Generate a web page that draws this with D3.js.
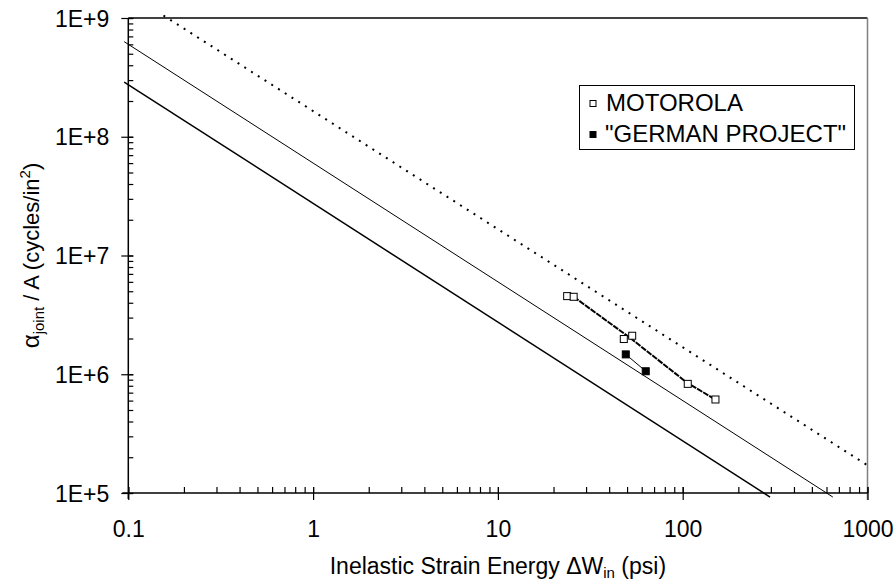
<!DOCTYPE html>
<html>
<head>
<meta charset="utf-8">
<script src="https://cdn.jsdelivr.net/npm/d3@7"></script>
<style>
  html, body { margin: 0; padding: 0; background: #fff; }
  svg { display: block; }
  text { font-family: "Liberation Sans", Arial, sans-serif; fill: #000; }
</style>
</head>
<body>
<svg id="chart" width="896" height="584"></svg>
<script>
// ---- Data ----
const xTicks = [0.1, 1, 10, 100, 1000];
const xTickLabels = ["0.1", "1", "10", "100", "1000"];
const yTicks = [1e5, 1e6, 1e7, 1e8, 1e9];
const yTickLabels = ["1E+5", "1E+6", "1E+7", "1E+8", "1E+9"];

const motorolaW = [23.7, 25.7, 48.0, 53.3, 106.5, 150.4];
const motorolaN = [4.55e6, 4.49e6, 1.98e6, 2.11e6, 8.3e5, 6.13e5];
const germanW = [49.2, 63.1];
const germanN = [1.47e6, 1.06e6];

const motorolaFitW = [25.7, 52, 106.5, 150.4];
const motorolaFitN = [4.49e6, 2.02e6, 8.4e5, 6.13e5];

const lowerLineW = [0.095, 297];
const lowerLineN = [2.89e8, 9.25e4];
const middleLineW = [0.095, 649];
const middleLineN = [6.32e8, 9.25e4];
const dottedLineW = [0.155, 1000];
const dottedLineN = [1.05e9, 1.71e5];

const legendLabels = ["MOTOROLA", "\"GERMAN PROJECT\""];

// ---- Layout ----
const svg = d3.select("#chart");
const L = 128.3, R = 867.5, T = 18, B = 493;
const x = d3.scaleLog().domain([0.1, 1000]).range([L, R]);
const y = d3.scaleLog().domain([1e5, 1e9]).range([B, T]);

const minorX = [];
for (let e = -1; e < 3; e++) for (let m = 1; m <= 9; m++) minorX.push(m * Math.pow(10, e));
minorX.push(1000);
const minorY = [];
for (let e = 5; e < 9; e++) for (let m = 1; m <= 9; m++) minorY.push(m * Math.pow(10, e));
minorY.push(1e9);

// plot frame: top black, right grey
svg.append("line").attr("x1", L).attr("x2", R).attr("y1", T).attr("y2", T)
  .attr("stroke", "#000").attr("stroke-width", 1.3);
svg.append("line").attr("x1", R).attr("x2", R).attr("y1", T).attr("y2", B + 7)
  .attr("stroke", "#808080").attr("stroke-width", 1.5);

// ---- Axes ----
const gx = svg.append("g").attr("transform", `translate(0,${B})`);
gx.call(d3.axisBottom(x).tickValues(minorX).tickSize(-6).tickSizeOuter(0).tickFormat(""));
gx.call(g => g.select(".domain").remove());
const gx2 = svg.append("g").attr("transform", `translate(0,${B})`);
gx2.call(d3.axisBottom(x).tickValues(xTicks).tickSize(7).tickSizeOuter(0)
  .tickFormat((d, i) => xTickLabels[i]));
gx2.selectAll(".tick line").attr("y1", -6);
gx2.select(".domain").attr("stroke-width", 1.5).attr("d", `M${L - 6},0H${R}`);
gx2.selectAll("text").attr("dy", null).attr("y", 44)
  .style("font-size", "23px").style("font-family", "'Liberation Sans', Arial, sans-serif");

const gy = svg.append("g").attr("transform", `translate(${L},0)`);
gy.call(d3.axisLeft(y).tickValues(minorY).tickSize(-5).tickSizeOuter(0).tickFormat(""));
gy.call(g => g.select(".domain").remove());
const gy2 = svg.append("g").attr("transform", `translate(${L},0)`);
gy2.call(d3.axisLeft(y).tickValues(yTicks).tickSize(7).tickSizeOuter(0)
  .tickFormat((d, i) => yTickLabels[i]));
gy2.selectAll(".tick line").attr("x1", 5);
gy2.select(".domain").attr("stroke-width", 1.5).attr("d", `M0,${T}V${B + 6}`);
gy2.selectAll("text").attr("x", -19).attr("dy", "0.35em")
  .style("font-size", "23px").style("font-family", "'Liberation Sans', Arial, sans-serif");
svg.selectAll(".tick line").attr("stroke", "#000").attr("stroke-width", 1.2);

// ---- Reference lines ----
const lineGen = d3.line().x(d => x(d[0])).y(d => y(d[1]));
const zip = (a, b) => a.map((v, i) => [v, b[i]]);

svg.append("path").datum(zip(lowerLineW, lowerLineN)).attr("d", lineGen)
  .attr("fill", "none").attr("stroke", "#000").attr("stroke-width", 1.5);
svg.append("path").datum(zip(middleLineW, middleLineN)).attr("d", lineGen)
  .attr("fill", "none").attr("stroke", "#000").attr("stroke-width", 1);
svg.append("path").datum(zip(dottedLineW, dottedLineN)).attr("d", lineGen)
  .attr("fill", "none").attr("stroke", "#000").attr("stroke-width", 2)
  .attr("stroke-dasharray", "2,6");

// ---- Data series ----
svg.append("path").datum(zip(motorolaFitW, motorolaFitN)).attr("d", lineGen)
  .attr("fill", "none").attr("stroke", "#000").attr("stroke-width", 2)
  .attr("stroke-dasharray", "6,1");
svg.append("path").datum(zip(germanW, germanN)).attr("d", lineGen)
  .attr("fill", "none").attr("stroke", "#000").attr("stroke-width", 1);

const S = 7;
svg.append("g").selectAll("rect").data(zip(motorolaW, motorolaN)).join("rect")
  .attr("x", d => x(d[0]) - S / 2).attr("y", d => y(d[1]) - S / 2)
  .attr("width", S).attr("height", S)
  .attr("fill", "#fff").attr("stroke", "#000").attr("stroke-width", 1);
svg.append("g").selectAll("rect").data(zip(germanW, germanN)).join("rect")
  .attr("x", d => x(d[0]) - S / 2).attr("y", d => y(d[1]) - S / 2)
  .attr("width", S).attr("height", S)
  .attr("fill", "#000").attr("stroke", "#000").attr("stroke-width", 1);

// ---- Legend ----
const lg = svg.append("g");
lg.append("rect").attr("x", 579.5).attr("y", 85.5).attr("width", 275).attr("height", 64)
  .attr("fill", "#fff").attr("stroke", "#000").attr("stroke-width", 1);
const LS = 6;
lg.append("rect").attr("x", 593 - LS / 2).attr("y", 103.5 - LS / 2).attr("width", LS).attr("height", LS)
  .attr("fill", "#fff").attr("stroke", "#000").attr("stroke-width", 1);
lg.append("rect").attr("x", 593 - LS / 2).attr("y", 134.5 - LS / 2).attr("width", LS).attr("height", LS)
  .attr("fill", "#000").attr("stroke", "#000").attr("stroke-width", 1);
lg.append("text").attr("x", 606).attr("y", 111).style("font-size", "24px").text(legendLabels[0]);
lg.append("text").attr("x", 605).attr("y", 142).style("font-size", "24px").text(legendLabels[1]);

// ---- Axis titles ----
const xt = svg.append("text").attr("x", (L + R) / 2).attr("y", 574)
  .attr("text-anchor", "middle").style("font-size", "23px");
xt.append("tspan").text("Inelastic Strain Energy \u0394W");
xt.append("tspan").attr("dy", 4).style("font-size", "15px").text("in");
xt.append("tspan").attr("dy", -4).text(" (psi)");

const yt = svg.append("text")
  .attr("transform", `translate(39,${(T + B) / 2}) rotate(-90)`)
  .attr("text-anchor", "middle").style("font-size", "22px");
yt.append("tspan").style("font-size", "24px").text("\u03B1");
yt.append("tspan").attr("dy", 5).style("font-size", "15px").text("joint");
yt.append("tspan").attr("dy", -5).text(" / A (cycles/in");
yt.append("tspan").attr("dy", -9).style("font-size", "15px").text("2");
yt.append("tspan").attr("dy", 9).text(")");
</script>
</body>
</html>
